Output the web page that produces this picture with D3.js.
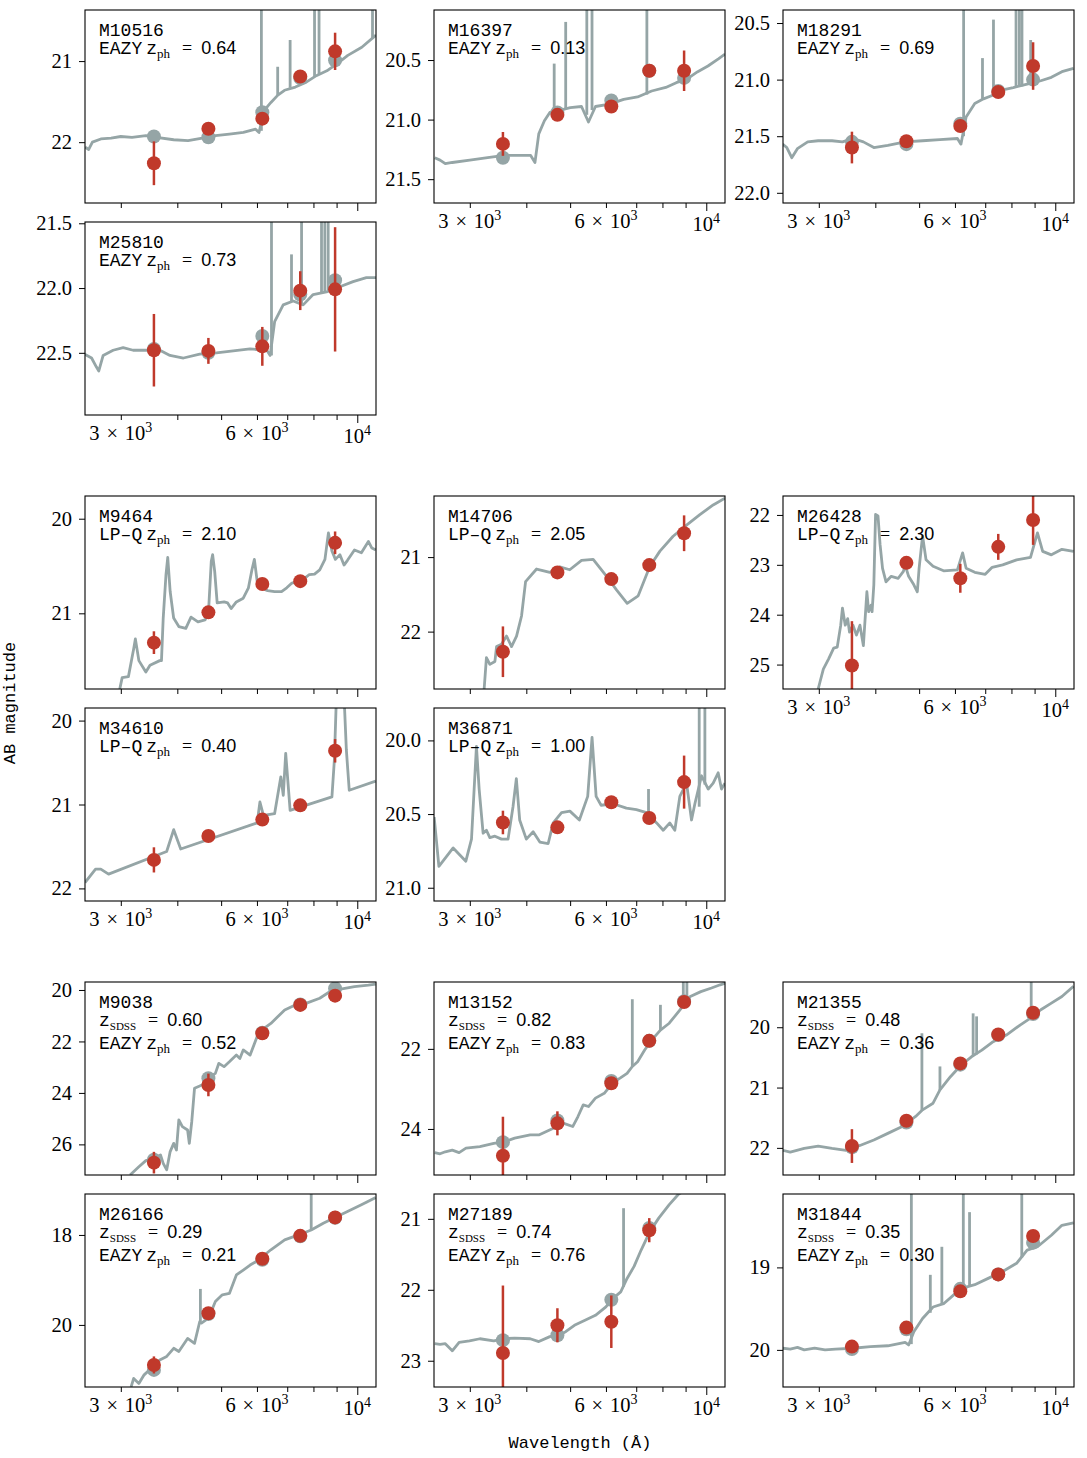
<!DOCTYPE html>
<html>
<head>
<meta charset="utf-8">
<script src="https://cdn.jsdelivr.net/npm/d3@7"></script>
<style>
  body { margin: 0; background: #fff; }
</style>
</head>
<body>
<script>
// SDSS ugriz effective wavelengths (Angstrom)
const filterWave = [3551, 4686, 6166, 7480, 8932];

const panelIds = ["M10516", "M16397", "M18291", "M25810", "M9464", "M14706", "M26428",
  "M34610", "M36871", "M9038", "M13152", "M21355", "M26166", "M27189", "M31844"];
const photCodes = ["EAZY", "EAZY", "EAZY", "EAZY", "LP\u2013Q", "LP\u2013Q", "LP\u2013Q",
  "LP\u2013Q", "LP\u2013Q", "EAZY", "EAZY", "EAZY", "EAZY", "EAZY", "EAZY"];
const zPhot = ["0.64", "0.13", "0.69", "0.73", "2.10", "2.05", "2.30", "0.40", "1.00",
  "0.52", "0.83", "0.36", "0.21", "0.76", "0.30"];
const zSdss = [null, null, null, null, null, null, null, null, null,
  "0.60", "0.82", "0.48", "0.29", "0.74", "0.35"];

// magnitude ranges (bright end first)
const yDomains = [[20.37, 22.75], [20.08, 21.70], [20.385, 22.09], [21.49, 22.98],
  [19.76, 21.80], [20.18, 22.77], [21.62, 25.49], [19.85, 22.15], [19.78, 21.09],
  [19.69, 27.19], [20.33, 25.15], [19.25, 22.45], [17.09, 21.38], [20.65, 23.37], [18.11, 20.45]];
const yTicks = [[21, 22], [20.5, 21.0, 21.5], [20.5, 21.0, 21.5, 22.0], [21.5, 22.0, 22.5],
  [20, 21], [21, 22], [22, 23, 24, 25], [20, 21, 22], [20.0, 20.5, 21.0],
  [20, 22, 24, 26], [22, 24], [20, 21, 22], [18, 20], [21, 22, 23], [19, 20]];
const yDecimals = [0, 1, 1, 1, 0, 0, 0, 0, 1, 0, 0, 0, 0, 0, 0];

const obsMag = [
  [22.26, 21.835, 21.71, 21.19, 20.88],
  [21.204, 20.96, 20.89, 20.59, 20.59],
  [21.60, 21.545, 21.41, 21.11, 20.88],
  [22.48, 22.485, 22.45, 22.02, 22.01],
  [21.31, 20.99, 20.69, 20.66, 20.255],
  [22.27, 21.205, 21.295, 21.107, 20.68],
  [25.02, 22.96, 23.27, 22.64, 22.10],
  [21.66, 21.375, 21.18, 21.01, 20.36],
  [20.557, 20.59, 20.42, 20.527, 20.283],
  [26.71, 23.69, 21.68, 20.58, 20.22],
  [24.67, 23.86, 22.86, 21.80, 20.83],
  [21.97, 21.55, 20.60, 20.12, 19.76],
  [20.89, 19.74, 18.53, 18.02, 17.61],
  [22.89, 22.50, 22.45, 21.16, null],
  [19.96, 19.73, 19.29, 19.085, 18.62]
];
const obsErr = [
  [0.27, 0.03, 0.04, 0.03, 0.23],
  [0.10, 0.02, 0.02, 0.03, 0.17],
  [0.14, 0.03, 0.03, 0.03, 0.21],
  [0.28, 0.10, 0.15, 0.15, 0.48],
  [0.12, 0.02, 0.02, 0.02, 0.12],
  [0.34, 0.02, 0.02, 0.02, 0.24],
  [0.89, 0.05, 0.29, 0.26, 0.50],
  [0.15, 0.02, 0.02, 0.02, 0.14],
  [0.08, 0.02, 0.02, 0.03, 0.18],
  [0.42, 0.44, 0.05, 0.03, 0.03],
  [0.975, 0.30, 0.05, 0.03, 0.03],
  [0.28, 0.03, 0.03, 0.03, 0.03],
  [0.19, 0.03, 0.02, 0.02, 0.02],
  [0.95, 0.24, 0.37, 0.17, null],
  [0.03, 0.03, 0.02, 0.02, 0.03]
];
// template magnitudes through the filters (EAZY fits only)
const modelMag = [
  [21.93, 21.94, 21.63, 21.21, 20.99],
  [21.32, 20.94, 20.84, 20.59, 20.65],
  [21.55, 21.57, 21.39, 21.10, 21.00],
  [22.47, 22.50, 22.37, 22.05, 21.94],
  null, null, null, null, null,
  [26.60, 23.43, 21.66, 20.56, 19.94],
  [24.33, 23.79, 22.80, 21.80, 20.81],
  [21.99, 21.58, 20.62, 20.13, 19.78],
  [21.00, 19.76, 18.55, 18.03, 17.62],
  [22.71, 22.64, 22.14, 21.13, null],
  [19.99, 19.75, 19.26, 19.085, 18.70]
];

// best-fit template spectra: [wavelength, AB mag]
const spec_M10516 = [[2502, 22.06], [2548, 22.09], [2596, 22.00], [2710, 21.96], [2855, 21.95], [3000, 21.93],
  [3176, 21.94], [3409, 21.92], [3599, 21.94], [3927, 21.97], [4225, 21.98], [4543, 21.95], [4858, 21.92],
  [5214, 21.90], [5600, 21.88], [5958, 21.84], [6064, 21.88], [6219, 21.61], [6443, 21.51], [6674, 21.42],
  [6904, 21.36], [7297, 21.32], [7713, 21.26], [8118, 21.18], [8565, 21.12], [9030, 21.03], [9529, 20.93],
  [10232, 20.83], [11000, 20.68]];
const spec_M16397 = [[2510, 21.32], [2578, 21.34], [2648, 21.37], [2744, 21.36], [3000, 21.34], [3285, 21.32],
  [3575, 21.30], [3906, 21.30], [4087, 21.30], [4180, 21.36], [4262, 21.12], [4386, 21.01], [4509, 20.94],
  [4759, 20.92], [5004, 20.90], [5298, 20.89], [5489, 21.02], [5689, 20.89], [6112, 20.87], [6566, 20.83],
  [7049, 20.81], [7573, 20.76], [8137, 20.73], [8583, 20.69], [9061, 20.66], [9554, 20.60], [10086, 20.55],
  [10636, 20.49], [11000, 20.45]];
const spec_M18291 = [[2495, 21.57], [2549, 21.60], [2614, 21.69], [2690, 21.61], [2835, 21.55], [2990, 21.54],
  [3209, 21.54], [3384, 21.55], [3570, 21.52], [3764, 21.55], [3970, 21.60], [4263, 21.58], [4656, 21.55],
  [5088, 21.54], [5559, 21.53], [6076, 21.52], [6186, 21.57], [6351, 21.33], [6637, 21.21], [6939, 21.17],
  [7252, 21.14], [7650, 21.09], [8075, 21.07], [8664, 21.04], [9290, 21.01], [9803, 20.98], [10344, 20.93],
  [10974, 20.90]];
const spec_M25810 = [[2496, 22.51], [2585, 22.54], [2650, 22.61], [2682, 22.64], [2742, 22.52], [2885, 22.48],
  [3036, 22.46], [3194, 22.48], [3420, 22.48], [3661, 22.48], [3853, 22.52], [4127, 22.54], [4483, 22.51],
  [4880, 22.50], [5317, 22.485], [5792, 22.47], [6310, 22.48], [6418, 22.52], [6565, 22.26], [6858, 22.13],
  [7217, 22.10], [7592, 22.13], [7987, 22.05], [8550, 22.03], [9149, 21.99], [9789, 21.95], [10474, 21.92],
  [10998, 21.92]];
const spec_M9464 = [[2984, 21.80], [3021, 21.68], [3118, 21.67], [3205, 21.37], [3231, 21.27], [3289, 21.50],
  [3408, 21.62], [3481, 21.55], [3658, 21.50], [3690, 21.50], [3723, 21.05], [3776, 20.59], [3810, 20.41],
  [3857, 20.77], [3926, 21.05], [4031, 21.14], [4177, 21.16], [4289, 21.04], [4443, 21.09], [4607, 21.07],
  [4689, 20.98], [4755, 20.45], [4788, 20.38], [4839, 20.56], [4900, 20.89], [5077, 20.88], [5168, 20.89],
  [5261, 20.95], [5402, 20.88], [5596, 20.84], [5746, 20.73], [5849, 20.54], [5922, 20.43], [6006, 20.66],
  [6113, 20.73], [6334, 20.76], [6564, 20.77], [6800, 20.77], [6982, 20.73], [7170, 20.68], [7560, 20.65],
  [7834, 20.59], [8044, 20.585], [8260, 20.54], [8482, 20.43], [8634, 20.15], [8789, 20.34], [8946, 20.43],
  [9154, 20.38], [9347, 20.49], [9514, 20.44], [9857, 20.33], [10212, 20.36], [10582, 20.24], [10772, 20.31],
  [10985, 20.33]];
const spec_M14706 = [[3227, 22.77], [3265, 22.35], [3322, 22.44], [3409, 22.40], [3438, 22.20], [3525, 22.17],
  [3617, 22.06], [3710, 22.20], [3806, 22.06], [3904, 21.79], [3985, 21.33], [4215, 21.16], [4508, 21.205],
  [4744, 21.13], [4990, 21.17], [5299, 21.045], [5622, 21.03], [6021, 21.26], [6331, 21.44], [6685, 21.62],
  [7070, 21.52], [7501, 21.125], [7898, 20.92], [8446, 20.72], [9044, 20.57], [9678, 20.43], [10357, 20.30],
  [10997, 20.21]];
const spec_M26428 = [[2990, 25.49], [3016, 25.36], [3070, 25.09], [3152, 24.89], [3236, 24.67], [3295, 24.65],
  [3354, 24.21], [3384, 23.87], [3432, 24.21], [3475, 24.08], [3507, 24.35], [3570, 24.21], [3634, 24.41],
  [3699, 24.21], [3764, 24.62], [3832, 23.54], [3866, 23.94], [3914, 23.81], [3935, 23.94], [3970, 23.40],
  [4005, 21.99], [4055, 22.02], [4098, 22.59], [4150, 23.07], [4224, 23.34], [4338, 23.23], [4495, 23.27],
  [4615, 23.13], [4656, 23.00], [4739, 23.23], [4867, 23.40], [4954, 23.54], [4999, 23.07], [5088, 22.42],
  [5179, 22.90], [5367, 23.03], [5663, 23.12], [6076, 23.10], [6239, 22.76], [6351, 23.07], [6637, 23.15],
  [7000, 23.19], [7252, 23.05], [7650, 23.00], [8212, 22.90], [8815, 22.85], [9133, 22.36], [9379, 22.73],
  [9803, 22.80], [10344, 22.69], [10974, 22.73]];
const spec_M34610 = [[2500, 21.93], [2638, 21.77], [2709, 21.77], [2819, 21.83], [3789, 21.56], [3927, 21.30],
  [4070, 21.53], [6006, 21.22], [6092, 20.97], [6201, 21.13], [6564, 21.11], [6776, 20.67], [6861, 20.89],
  [6946, 20.39], [7104, 21.07], [8789, 20.91], [8899, 20.47], [8994, 19.70], [9347, 19.70], [9459, 20.35],
  [9599, 20.83], [10985, 20.72]];
const spec_M36871 = [[2502, 20.52], [2563, 20.855], [2756, 20.73], [2940, 20.82], [3026, 20.67], [3067, 20.33],
  [3103, 20.04], [3146, 20.33], [3210, 20.63], [3265, 20.61], [3322, 20.66], [3409, 20.65], [3525, 20.67],
  [3645, 20.67], [3738, 20.45], [3802, 20.26], [3867, 20.54], [4000, 20.67], [4142, 20.62], [4285, 20.69],
  [4471, 20.70], [4587, 20.56], [4786, 20.49], [4994, 20.48], [5241, 20.54], [5468, 20.38], [5590, 19.98],
  [5707, 20.38], [5854, 20.44], [6224, 20.43], [6658, 20.46], [7006, 20.47], [7377, 20.49], [7766, 20.56],
  [8031, 20.61], [8307, 20.56], [8520, 20.61], [8740, 20.38], [9044, 20.29], [9276, 20.54], [9436, 20.43],
  [9762, 20.24], [10100, 20.33], [10357, 20.29], [10624, 20.22], [10806, 20.33], [10997, 20.29]];
const spec_M9038 = [[3145, 27.19], [3289, 26.87], [3408, 26.63], [3563, 26.54], [3672, 26.41], [3723, 26.74],
  [3790, 26.99], [3857, 26.28], [3927, 25.96], [3982, 26.22], [4031, 25.05], [4104, 25.31], [4215, 25.44],
  [4252, 25.96], [4305, 25.12], [4366, 23.82], [4483, 23.73], [4603, 23.63], [4725, 23.37], [4855, 23.24],
  [4942, 22.85], [5074, 22.98], [5214, 22.79], [5403, 22.53], [5500, 22.66], [5596, 22.33], [5795, 22.53],
  [6006, 21.81], [6220, 21.49], [6441, 21.30], [6668, 21.04], [6910, 20.78], [7290, 20.58], [7699, 20.52],
  [8260, 20.32], [8707, 20.06], [9186, 19.97], [9857, 19.87], [10582, 19.81], [10985, 19.77]];
const spec_M13152 = [[2510, 24.59], [2578, 24.62], [2648, 24.57], [2744, 24.53], [2841, 24.59], [2942, 24.48],
  [3158, 24.44], [3389, 24.36], [3575, 24.32], [3770, 24.23], [4080, 24.15], [4263, 24.15], [4591, 23.98],
  [4843, 23.86], [5066, 23.94], [5203, 23.69], [5345, 23.40], [5489, 23.44], [5688, 23.23], [5948, 23.11],
  [6220, 22.84], [6447, 22.73], [6681, 22.61], [6862, 22.44], [7049, 22.32], [7307, 22.03], [7573, 21.78],
  [7918, 21.53], [8281, 21.36], [8738, 21.03], [9219, 20.69], [9727, 20.57], [10270, 20.48], [10734, 20.40],
  [11000, 20.36]];
const spec_M21355 = [[2496, 22.04], [2594, 22.07], [2785, 22.01], [2990, 21.97], [3209, 22.01], [3446, 22.04],
  [3699, 21.96], [3970, 21.87], [4263, 21.76], [4576, 21.65], [4912, 21.48], [5088, 21.37], [5367, 21.26],
  [5559, 21.04], [5864, 20.82], [6186, 20.63], [6525, 20.49], [6880, 20.38], [7252, 20.25], [7794, 20.13],
  [8375, 19.96], [8815, 19.85], [9290, 19.71], [9803, 19.60], [10344, 19.49], [10974, 19.32]];
const spec_M26166 = [[3161, 21.38], [3203, 21.19], [3289, 21.30], [3378, 21.11], [3531, 20.93], [3658, 20.78],
  [3790, 20.70], [3927, 20.52], [4031, 20.59], [4215, 20.30], [4366, 20.41], [4483, 19.93], [4523, 19.96],
  [4689, 19.85], [4855, 19.48], [5030, 19.33], [5214, 19.30], [5403, 18.89], [5596, 18.78], [5795, 18.67],
  [6006, 18.58], [6441, 18.33], [6910, 18.11], [7415, 18.00], [7909, 17.89], [8410, 17.74], [9025, 17.59],
  [9514, 17.48], [10212, 17.33], [10985, 17.17]];
const spec_M27189 = [[2510, 22.76], [2578, 22.77], [2648, 22.76], [2744, 22.86], [2841, 22.74], [2995, 22.72],
  [3158, 22.69], [3389, 22.72], [3575, 22.69], [3770, 22.68], [4080, 22.69], [4263, 22.73], [4509, 22.66],
  [4715, 22.64], [4888, 22.59], [5110, 22.50], [5393, 22.43], [5688, 22.36], [5999, 22.24], [6220, 22.12],
  [6469, 22.03], [6681, 21.84], [6924, 21.67], [7177, 21.44], [7503, 21.18], [7849, 20.99], [8281, 20.80],
  [8659, 20.66], [8896, 20.61], [9040, 20.58]];
const spec_M31844 = [[2496, 19.98], [2594, 19.99], [2691, 19.97], [2785, 20.00], [2937, 19.98], [3097, 20.00],
  [3266, 19.99], [3570, 19.98], [3902, 19.96], [4263, 19.95], [4656, 19.91], [4739, 19.94], [4867, 19.78],
  [5088, 19.62], [5367, 19.48], [5663, 19.44], [5972, 19.33], [6239, 19.25], [6637, 19.21], [7124, 19.13],
  [7650, 19.05], [8212, 18.95], [8664, 18.79], [9133, 18.75], [9803, 18.61], [10344, 18.49], [10974, 18.46]];

// narrow emission lines: [wavelength, continuum mag, peak mag]
const lines_M10516 = [[6137, 21.86, 19.5], [6668, 21.42, 21.07], [7104, 21.33, 20.74], [8044, 21.19, 19.5],
  [8231, 21.17, 19.5], [10806, 20.72, 19.5]];
const lines_M16397 = [[4610, 20.93, 20.53], [4888, 20.91, 20.18], [5443, 20.96, 19.5], [5589, 20.92, 19.5],
  [7390, 20.79, 19.5]];
const lines_M18291 = [[6271, 21.50, 19.5], [6903, 21.17, 20.81], [7300, 21.14, 20.47], [8189, 21.07, 19.5],
  [8330, 21.06, 19.5], [8440, 21.06, 19.5], [8822, 21.04, 20.65]];
const lines_M25810 = [[6461, 22.52, 21.0], [7154, 22.10, 21.74], [7530, 22.12, 21.0], [8335, 22.04, 21.0],
  [8477, 22.03, 21.0], [8623, 22.02, 21.0]];
const lines_M36871 = [[7452, 20.49, 20.33], [9646, 20.45, 19.5], [9929, 20.30, 19.5]];
const lines_M13152 = [[6862, 22.44, 20.76], [7918, 21.53, 20.90], [8896, 20.98, 19.5], [9060, 20.90, 19.5]];
const lines_M21355 = [[5071, 21.38, 20.10], [5559, 21.04, 20.65], [6582, 20.47, 19.77], [6700, 20.45, 19.82],
  [8846, 19.84, 19.0]];
const lines_M26166 = [[4499, 19.93, 19.2], [7909, 17.89, 16.5]];
const lines_M27189 = [[6563, 21.96, 20.85]];
const lines_M31844 = [[4806, 19.93, 17.5], [5293, 19.55, 19.09], [5613, 19.45, 18.75], [6261, 19.25, 17.5],
  [6463, 19.22, 18.33], [8432, 18.88, 17.5]];

const spectra = [spec_M10516, spec_M16397, spec_M18291, spec_M25810, spec_M9464, spec_M14706, spec_M26428,
  spec_M34610, spec_M36871, spec_M9038, spec_M13152, spec_M21355, spec_M26166, spec_M27189, spec_M31844];
const emLines = [lines_M10516, lines_M16397, lines_M18291, lines_M25810, [], [], [],
  [], lines_M36871, [], lines_M13152, lines_M21355, lines_M26166, lines_M27189, lines_M31844];

const xTickValues = [3000, 4000, 5000, 6000, 7000, 8000, 9000, 10000];
const xTickLabels = [[3000, "3\u2004\u00d7\u200410", "3"], [6000, "6\u2004\u00d7\u200410", "3"], [10000, "10", "4"]];

// ---- layout ----
const W = 1087, H = 1458;
const colX = [85, 434, 783];
const rowY = [10, 222, 496, 708, 982, 1194];
const PW = 291, PH = 193;
const cells = [[0, 0], [1, 0], [2, 0], [0, 1], [0, 2], [1, 2], [2, 2], [0, 3], [1, 3],
  [0, 4], [1, 4], [2, 4], [0, 5], [1, 5], [2, 5]];
const showX = [false, true, true, true, false, false, true, true, true,
  false, false, false, true, true, true];

const GRAY = "#95a5a6", RED = "#c0392b";
const MONO = "'Liberation Mono', 'DejaVu Sans Mono', monospace";
const SERIF = "'Liberation Serif', 'DejaVu Serif', serif";
const SANS = "'Liberation Sans', 'DejaVu Sans', sans-serif";

const svg = d3.select("body").append("svg")
  .attr("width", W)
  .attr("height", H)
  .style("background", "#fff");

const defs = svg.append("defs");

panelIds.forEach((id, i) => {
  const [c, r] = cells[i];
  const g = svg.append("g").attr("transform", `translate(${colX[c]},${rowY[r]})`);

  const x = d3.scaleLog().domain([2500, 11000]).range([0, PW]);
  const y = d3.scaleLinear().domain(yDomains[i]).range([0, PH]);

  defs.append("clipPath").attr("id", `clip-${i}`)
    .append("rect").attr("width", PW).attr("height", PH);

  const plot = g.append("g").attr("clip-path", `url(#clip-${i})`);

  // template spectrum
  plot.append("path")
    .datum(spectra[i])
    .attr("fill", "none")
    .attr("stroke", GRAY)
    .attr("stroke-width", 2.8)
    .attr("stroke-linejoin", "round")
    .attr("d", d3.line().x((d) => x(d[0])).y((d) => y(d[1])));

  // emission lines
  plot.selectAll("line.em")
    .data(emLines[i])
    .join("line")
    .attr("class", "em")
    .attr("x1", (d) => x(d[0]))
    .attr("x2", (d) => x(d[0]))
    .attr("y1", (d) => y(d[1]))
    .attr("y2", (d) => y(d[2]))
    .attr("stroke", GRAY)
    .attr("stroke-width", 2.8);

  // model fluxes
  if (modelMag[i]) {
    const mod = filterWave.map((w, k) => [w, modelMag[i][k]]).filter((d) => d[1] != null);
    plot.selectAll("circle.model")
      .data(mod)
      .join("circle")
      .attr("class", "model")
      .attr("cx", (d) => x(d[0]))
      .attr("cy", (d) => y(d[1]))
      .attr("r", 7)
      .attr("fill", GRAY);
  }

  // observed photometry
  const obs = filterWave.map((w, k) => ({ w, m: obsMag[i][k], e: obsErr[i][k] }))
    .filter((d) => d.m != null);

  plot.selectAll("line.err")
    .data(obs)
    .join("line")
    .attr("class", "err")
    .attr("x1", (d) => x(d.w))
    .attr("x2", (d) => x(d.w))
    .attr("y1", (d) => y(d.m - d.e))
    .attr("y2", (d) => y(d.m + d.e))
    .attr("stroke", RED)
    .attr("stroke-width", 2.5);

  plot.selectAll("circle.obs")
    .data(obs)
    .join("circle")
    .attr("class", "obs")
    .attr("cx", (d) => x(d.w))
    .attr("cy", (d) => y(d.m))
    .attr("r", 7)
    .attr("fill", RED);

  // frame
  g.append("rect")
    .attr("width", PW)
    .attr("height", PH)
    .attr("fill", "none")
    .attr("stroke", "#000")
    .attr("stroke-width", 1.1);

  // y axis
  const fmt = yDecimals[i] ? d3.format(".1f") : d3.format("d");
  const yAxis = g.append("g")
    .call(d3.axisLeft(y).tickValues(yTicks[i]).tickSize(6).tickPadding(7).tickFormat(fmt));
  yAxis.select(".domain").remove();
  yAxis.selectAll("text")
    .attr("font-family", SERIF)
    .attr("font-size", 20.5)
    .attr("fill", "#000");

  // x axis (minor ticks 3000-9000, major at 10^4)
  const xAxis = g.append("g")
    .attr("transform", `translate(0,${PH})`)
    .call(d3.axisBottom(x).tickValues(xTickValues).tickSize(5).tickFormat(""));
  xAxis.select(".domain").remove();
  xAxis.selectAll(".tick line").attr("y2", (d) => (d === 10000 ? 8 : 5));

  if (showX[i]) {
    xTickLabels.forEach(([v, base, sup]) => {
      const t = g.append("text")
        .attr("x", x(v))
        .attr("y", PH + (v === 10000 ? 28 : 25))
        .attr("text-anchor", "middle")
        .attr("font-family", SERIF)
        .attr("font-size", 20.5);
      t.append("tspan").text(base);
      t.append("tspan").attr("font-size", 14).attr("dy", -8).text(sup);
    });
  }

  // annotation
  const lab = g.append("g").attr("transform", "translate(14,0)");
  lab.append("text")
    .attr("y", 25.5)
    .attr("font-family", MONO)
    .attr("font-size", 18)
    .text(id);

  const zRow = (yy, prefix, sub, subSize, val) => {
    const t = lab.append("text")
      .attr("y", yy)
      .attr("font-family", MONO)
      .attr("font-size", 18);
    if (prefix) t.append("tspan").text(prefix);
    t.append("tspan").attr("dx", prefix ? 4 : 0).text("z");
    t.append("tspan").attr("font-family", SERIF).attr("font-size", subSize).attr("dy", 4).text(sub);
    t.append("tspan").attr("font-family", SERIF).attr("font-size", 18).attr("dy", -4).attr("dx", 12).text("=");
    t.append("tspan").attr("font-family", SANS).attr("font-size", 18).attr("dx", 9).text(val);
  };

  if (zSdss[i]) {
    zRow(44, "", "SDSS", 11, zSdss[i]);
    zRow(66.5, photCodes[i], "ph", 13, zPhot[i]);
  } else {
    zRow(43.5, photCodes[i], "ph", 13, zPhot[i]);
  }
});

// shared axis labels
svg.append("text")
  .attr("transform", "translate(15,703) rotate(-90)")
  .attr("text-anchor", "middle")
  .attr("font-family", MONO)
  .attr("font-size", 17)
  .text("AB magnitude");

svg.append("text")
  .attr("x", 580)
  .attr("y", 1448)
  .attr("text-anchor", "middle")
  .attr("font-family", MONO)
  .attr("font-size", 17)
  .text("Wavelength (\u00c5)");
</script>
</body>
</html>
